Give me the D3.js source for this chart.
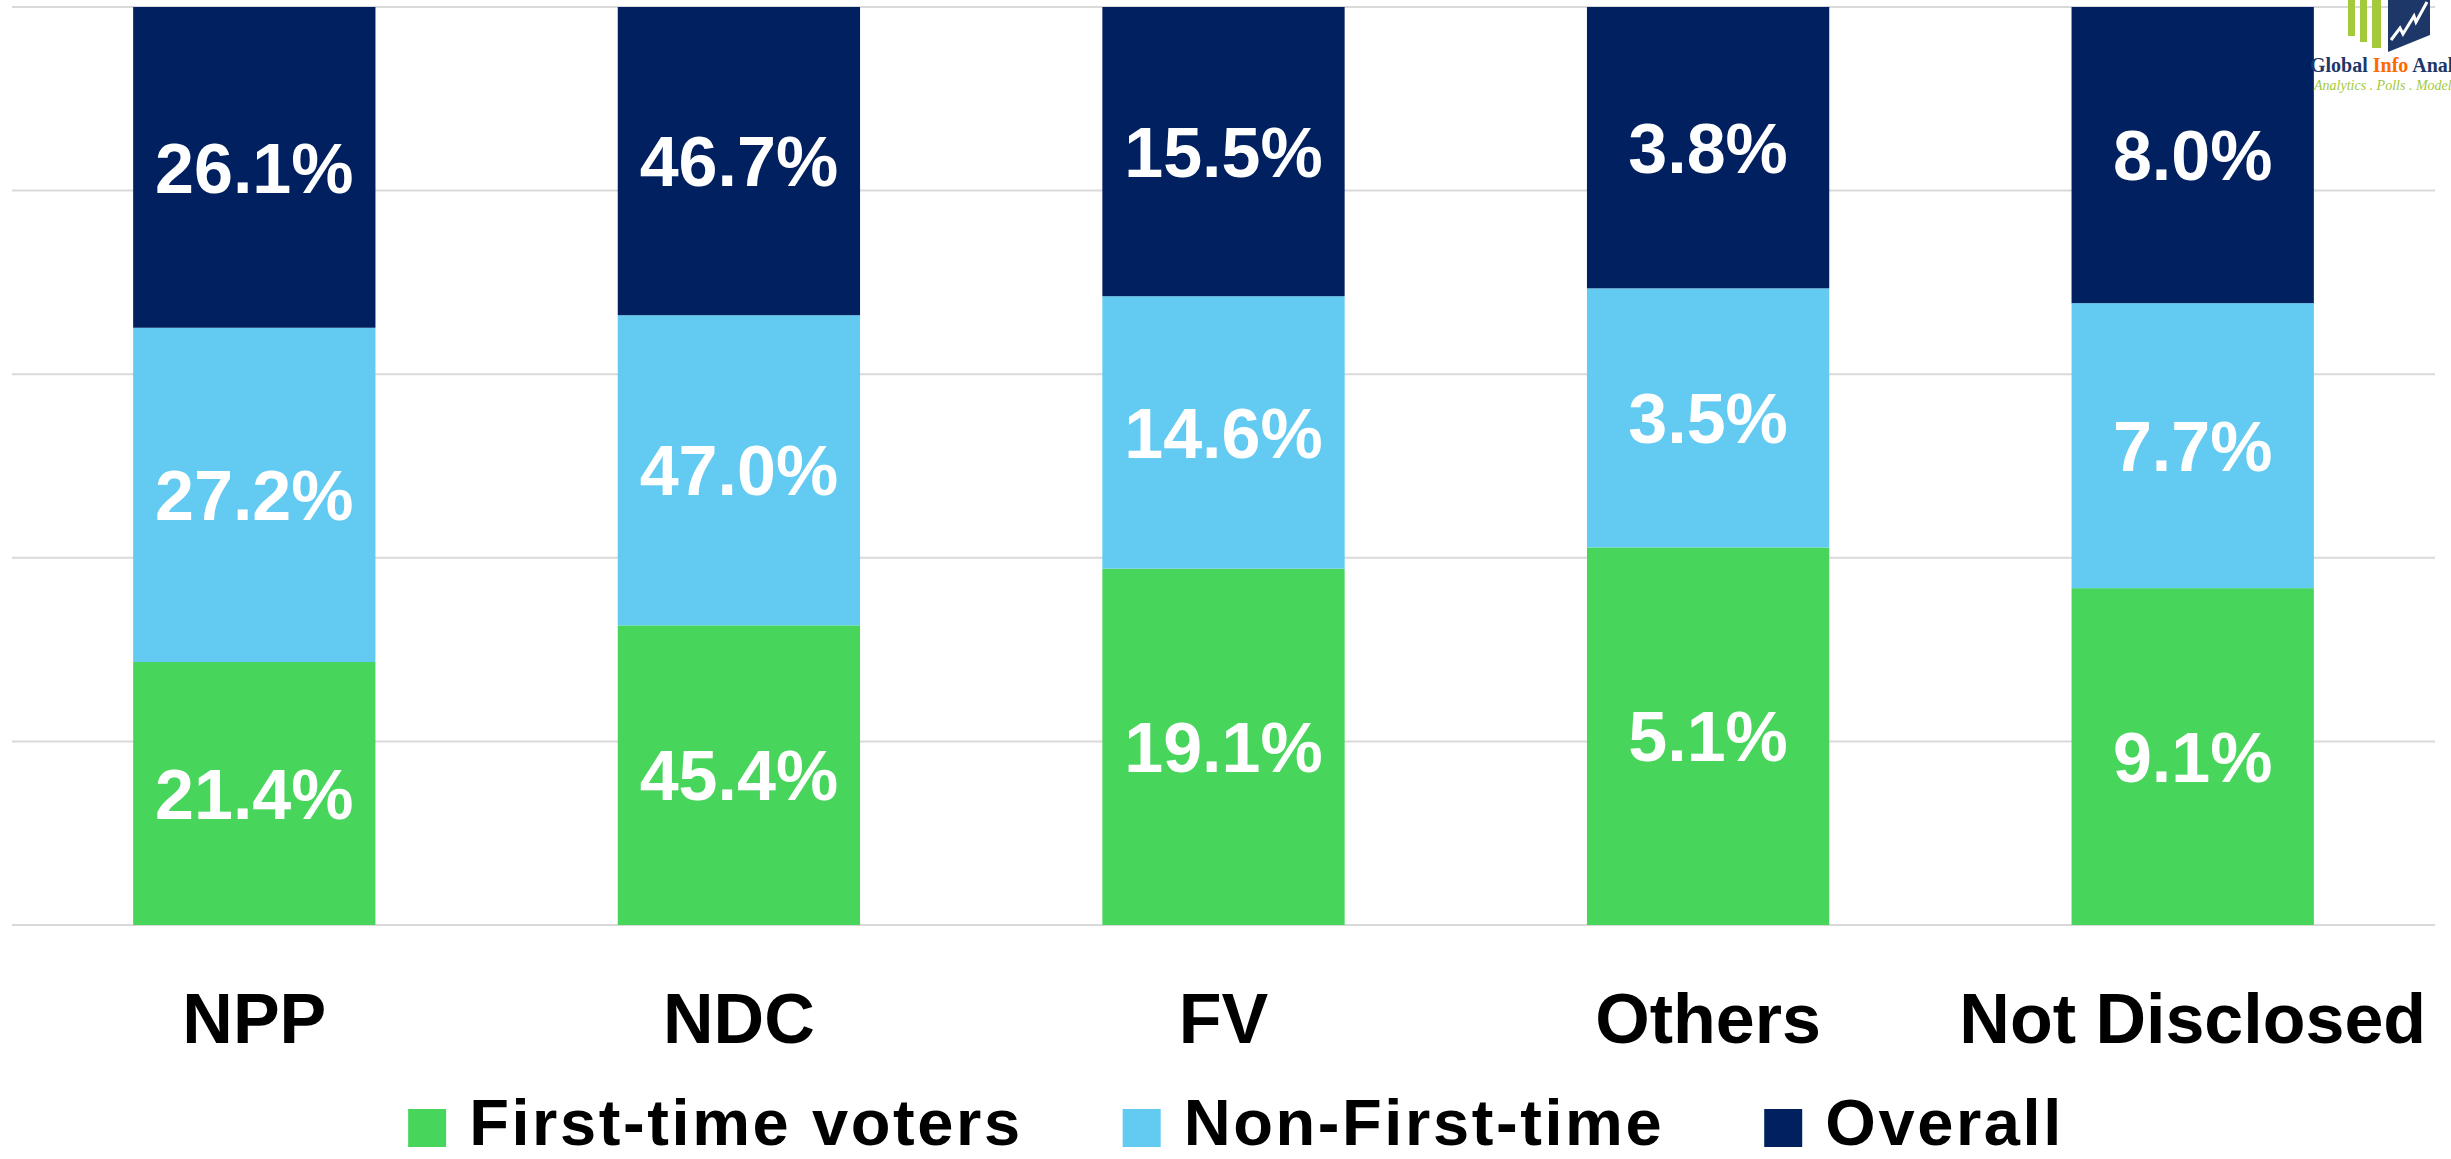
<!DOCTYPE html>
<html>
<head>
<meta charset="utf-8">
<script src="https://cdn.jsdelivr.net/npm/d3@7"></script>
<style>
  body { margin: 0; background: #fff; }
  svg { display: block; font-family: "Liberation Sans", Arial, sans-serif; }
</style>
</head>
<body>
<div id="chart"></div>
<script>
const parties = ["NPP", "NDC", "FV", "Others", "Not Disclosed"];
const seriesNames = ["First-time voters", "Non-First-time", "Overall"];
const firstTime = [21.4, 45.4, 19.1, 5.1, 9.1];
const nonFirstTime = [27.2, 47.0, 14.6, 3.5, 7.7];
const overall = [26.1, 46.7, 15.5, 3.8, 8.0];
const colors = ["#48d55c", "#63caf2", "#012060"];
const gridTicks = [0, 0.2, 0.4, 0.6, 0.8, 1];

const W = 2451, H = 1159;
const margin = { top: 7, right: 16, bottom: 234, left: 12 };
const width = W - margin.left - margin.right,
      height = H - margin.top - margin.bottom;

const rows = parties.map((p, i) => ({
  party: p,
  [seriesNames[0]]: firstTime[i],
  [seriesNames[1]]: nonFirstTime[i],
  [seriesNames[2]]: overall[i]
}));

// 100% stacked
const stacked = d3.stack()
  .keys(seriesNames)
  .offset(d3.stackOffsetExpand)(rows);

const svg = d3.select("#chart")
  .append("svg")
    .attr("width", W)
    .attr("height", H)
  .append("g")
    .attr("transform", `translate(${margin.left},${margin.top})`);

const x = d3.scaleBand()
  .domain(parties)
  .range([0, width])
  .paddingInner(0.5)
  .paddingOuter(0.25);

const y = d3.scaleLinear()
  .domain([0, 1])
  .range([height, 0]);

// gridlines
svg.append("g")
  .selectAll("line")
  .data(gridTicks)
  .enter()
  .append("line")
    .attr("x1", 0)
    .attr("x2", width)
    .attr("y1", d => y(d))
    .attr("y2", d => y(d))
    .attr("stroke", "#d9d9d9")
    .attr("stroke-width", 2);

// bars
const layers = svg.selectAll(".layer")
  .data(stacked)
  .enter()
  .append("g")
    .attr("class", "layer")
    .attr("fill", (d, i) => colors[i]);

layers.selectAll("rect")
  .data(d => d)
  .enter()
  .append("rect")
    .attr("x", d => x(d.data.party))
    .attr("width", x.bandwidth())
    .attr("y", d => y(d[1]))
    .attr("height", d => y(d[0]) - y(d[1]));

// value labels
layers.each(function (layer) {
  d3.select(this).selectAll("text")
    .data(layer)
    .enter()
    .append("text")
      .attr("x", d => x(d.data.party) + x.bandwidth() / 2)
      .attr("y", d => (y(d[0]) + y(d[1])) / 2)
      .attr("dy", "0.36em")
      .attr("text-anchor", "middle")
      .style("font-size", "70px")
      .style("font-weight", "bold")
      .style("fill", "#fff")
      .text(d => d.data[layer.key].toFixed(1) + "%");
});

// category axis
const xAxis = svg.append("g")
  .attr("transform", `translate(0,${height})`)
  .call(d3.axisBottom(x).tickSize(0).tickPadding(68));
xAxis.select(".domain").remove();
xAxis.selectAll("text")
  .style("font-size", "70px")
  .style("font-weight", "bold")
  .style("fill", "#000")
  .style("font-family", "'Liberation Sans', Arial, sans-serif");

// legend
const legend = svg.append("g")
  .attr("transform", `translate(0,${height + 220})`);

const items = legend.selectAll(".item")
  .data(seriesNames)
  .enter()
  .append("g")
    .attr("class", "item");

items.append("rect")
  .attr("y", -36)
  .attr("width", 38)
  .attr("height", 38)
  .attr("fill", (d, i) => colors[i]);

items.append("text")
  .attr("x", 61)
  .attr("y", 0)
  .style("font-size", "65px")
  .style("font-weight", "bold")
  .style("letter-spacing", "2.6px")
  .style("fill", "#000")
  .text(d => d);

let offset = 0;
const starts = [];
items.each(function () {
  const w = 61 + d3.select(this).select("text").node().getComputedTextLength();
  starts.push(offset);
  offset += w + 100;
});
const total = offset - 100;
const start = 1236 - margin.left - total / 2;
items.attr("transform", (d, i) => `translate(${start + starts[i]},0)`);

// logo (top right)
const logo = d3.select("#chart svg").append("g").attr("class", "logo");
[[2348, 7, 36], [2360, 7, 42], [2372, 9, 48]].forEach(([lx, lw, lh]) => {
  logo.append("rect").attr("x", lx).attr("y", 0).attr("width", lw).attr("height", lh).attr("fill", "#a4c93a");
});
logo.append("polygon")
  .attr("points", "2388,0 2430,0 2430,35 2388,52")
  .attr("fill", "#1d3868");
logo.append("polyline")
  .attr("points", "2391,40 2400,28 2403,34 2414,16 2416,22 2427,2")
  .attr("fill", "none")
  .attr("stroke", "#fff")
  .attr("stroke-width", 3);
const lt = logo.append("text")
  .attr("x", 2310)
  .attr("y", 72)
  .style("font-family", "'Liberation Serif', serif")
  .style("font-weight", "bold")
  .style("font-size", "20px")
  .style("fill", "#1d3868");
lt.append("tspan").text("Global ");
lt.append("tspan").style("fill", "#ff6a00").text("Info");
lt.append("tspan").text(" Analytics");
logo.append("text")
  .attr("x", 2314)
  .attr("y", 90)
  .style("font-family", "'Liberation Serif', serif")
  .style("font-style", "italic")
  .style("font-size", "14px")
  .style("fill", "#a4c93a")
  .text("Analytics . Polls . Modelling");
</script>
</body>
</html>
